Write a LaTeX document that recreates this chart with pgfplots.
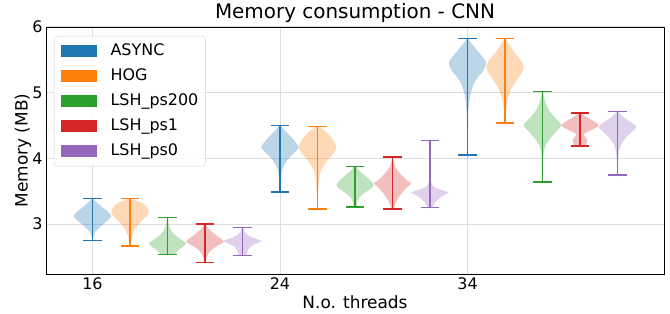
\documentclass[border=0pt]{standalone}
\usepackage{pgfplots}
\pgfplotsset{compat=1.18}
\usepackage{pgfplotstable}
\usepackage{fontspec}
\setmainfont{DejaVu Sans}
\definecolor{C0}{HTML}{1F77B4}
\definecolor{C1}{HTML}{FF7F0E}
\definecolor{C2}{HTML}{2CA02C}
\definecolor{C3}{HTML}{D62728}
\definecolor{C4}{HTML}{9467BD}
\definecolor{gridc}{RGB}{222,222,222}
\definecolor{legc}{RGB}{210,210,210}

% violin outlines: y, signed relative half width w (right side down, left side up)
\pgfplotstableread{
y w
3.385 0.03
3.35 0.15
3.30 0.35
3.25 0.55
3.20 0.78
3.15 0.95
3.12 1.0
3.08 0.9
3.03 0.7
2.98 0.5
2.93 0.3
2.88 0.15
2.83 0.07
2.78 0.03
2.75 0.02
2.75 -0.02
2.78 -0.03
2.83 -0.07
2.88 -0.15
2.93 -0.3
2.98 -0.5
3.03 -0.7
3.08 -0.9
3.12 -1.0
3.15 -0.95
3.20 -0.78
3.25 -0.55
3.30 -0.35
3.35 -0.15
3.385 -0.03
}\vAa
\pgfplotstableread{
y w
3.385 0.05
3.36 0.3
3.31 0.7
3.26 0.9
3.18 1.0
3.11 0.85
3.03 0.55
2.93 0.28
2.83 0.12
2.75 0.06
2.665 0.03
2.665 -0.03
2.75 -0.06
2.83 -0.12
2.93 -0.28
3.03 -0.55
3.11 -0.85
3.18 -1.0
3.26 -0.9
3.31 -0.7
3.36 -0.3
3.385 -0.05
}\vAb
\pgfplotstableread{
y w
3.10 0.02
3.02 0.06
2.95 0.12
2.88 0.25
2.82 0.45
2.76 0.75
2.71 1.0
2.66 0.85
2.61 0.6
2.57 0.45
2.545 0.35
2.545 -0.35
2.57 -0.45
2.61 -0.6
2.66 -0.85
2.71 -1.0
2.76 -0.75
2.82 -0.45
2.88 -0.25
2.95 -0.12
3.02 -0.06
3.10 -0.02
}\vAc
\pgfplotstableread{
y w
3.00 0.03
2.93 0.2
2.88 0.38
2.83 0.6
2.77 0.88
2.73 1.0
2.69 0.8
2.65 0.55
2.58 0.25
2.50 0.1
2.41 0.02
2.41 -0.02
2.50 -0.1
2.58 -0.25
2.65 -0.55
2.69 -0.8
2.73 -1.0
2.77 -0.88
2.83 -0.6
2.88 -0.38
2.93 -0.2
3.00 -0.03
}\vAd
\pgfplotstableread{
y w
2.95 0.03
2.89 0.1
2.84 0.25
2.80 0.5
2.765 0.85
2.74 1.0
2.71 0.8
2.68 0.55
2.63 0.35
2.57 0.25
2.52 0.2
2.52 -0.2
2.57 -0.25
2.63 -0.35
2.68 -0.55
2.71 -0.8
2.74 -1.0
2.765 -0.85
2.80 -0.5
2.84 -0.25
2.89 -0.1
2.95 -0.03
}\vAe
\pgfplotstableread{
y w
4.50 0.03
4.41 0.3
4.31 0.65
4.23 0.88
4.17 1.0
4.11 0.85
4.05 0.62
3.95 0.33
3.85 0.15
3.75 0.07
3.62 0.04
3.49 0.02
3.49 -0.02
3.62 -0.04
3.75 -0.07
3.85 -0.15
3.95 -0.33
4.05 -0.62
4.11 -0.85
4.17 -1.0
4.23 -0.88
4.31 -0.65
4.41 -0.3
4.50 -0.03
}\vBa
\pgfplotstableread{
y w
4.486 0.05
4.43 0.35
4.33 0.7
4.24 0.92
4.16 1.0
4.09 0.88
4.03 0.7
3.90 0.35
3.78 0.15
3.62 0.07
3.45 0.04
3.23 0.02
3.23 -0.02
3.45 -0.04
3.62 -0.07
3.78 -0.15
3.90 -0.35
4.03 -0.7
4.09 -0.88
4.16 -1.0
4.24 -0.92
4.33 -0.7
4.43 -0.35
4.486 -0.05
}\vBb
\pgfplotstableread{
y w
3.88 0.03
3.82 0.2
3.745 0.5
3.67 0.8
3.59 1.0
3.52 0.75
3.44 0.35
3.365 0.15
3.30 0.1
3.26 0.08
3.26 -0.08
3.30 -0.1
3.365 -0.15
3.44 -0.35
3.52 -0.75
3.59 -1.0
3.67 -0.8
3.745 -0.5
3.82 -0.2
3.88 -0.03
}\vBc
\pgfplotstableread{
y w
4.02 0.02
3.95 0.06
3.87 0.15
3.77 0.4
3.67 0.75
3.62 1.0
3.57 0.8
3.49 0.55
3.415 0.35
3.315 0.15
3.23 0.05
3.23 -0.05
3.315 -0.15
3.415 -0.35
3.49 -0.55
3.57 -0.8
3.62 -1.0
3.67 -0.75
3.77 -0.4
3.87 -0.15
3.95 -0.06
4.02 -0.02
}\vBd
\pgfplotstableread{
y w
4.27 0.01
4.00 0.02
3.75 0.03
3.64 0.06
3.57 0.2
3.52 0.6
3.48 1.0
3.44 0.75
3.415 0.6
3.34 0.3
3.25 0.1
3.25 -0.1
3.34 -0.3
3.415 -0.6
3.44 -0.75
3.48 -1.0
3.52 -0.6
3.57 -0.2
3.64 -0.06
3.75 -0.03
4.00 -0.02
4.27 -0.01
}\vBe
\pgfplotstableread{
y w
5.82 0.03
5.72 0.3
5.615 0.6
5.51 0.9
5.44 1.0
5.34 0.85
5.235 0.55
5.11 0.3
4.96 0.15
4.805 0.07
4.60 0.03
4.05 0.02
4.05 -0.02
4.60 -0.03
4.805 -0.07
4.96 -0.15
5.11 -0.3
5.235 -0.55
5.34 -0.85
5.44 -1.0
5.51 -0.9
5.615 -0.6
5.72 -0.3
5.82 -0.03
}\vCa
\pgfplotstableread{
y w
5.82 0.03
5.72 0.25
5.615 0.5
5.49 0.85
5.39 1.0
5.285 0.85
5.16 0.55
5.03 0.3
4.905 0.15
4.75 0.07
4.54 0.03
4.54 -0.03
4.75 -0.07
4.905 -0.15
5.03 -0.3
5.16 -0.55
5.285 -0.85
5.39 -1.0
5.49 -0.85
5.615 -0.5
5.72 -0.25
5.82 -0.03
}\vCb
\pgfplotstableread{
y w
5.02 0.02
4.86 0.15
4.73 0.35
4.61 0.7
4.505 1.0
4.40 0.7
4.30 0.4
4.20 0.18
4.10 0.07
3.90 0.03
3.64 0.02
3.64 -0.02
3.90 -0.03
4.10 -0.07
4.20 -0.18
4.30 -0.4
4.40 -0.7
4.505 -1.0
4.61 -0.7
4.73 -0.35
4.86 -0.15
5.02 -0.02
}\vCc
\pgfplotstableread{
y w
4.69 0.05
4.63 0.35
4.58 0.65
4.505 1.0
4.43 0.6
4.39 0.3
4.36 0.2
4.32 0.3
4.28 0.38
4.225 0.35
4.19 0.28
4.19 -0.28
4.225 -0.35
4.28 -0.38
4.32 -0.3
4.36 -0.2
4.39 -0.3
4.43 -0.6
4.505 -1.0
4.58 -0.65
4.63 -0.35
4.69 -0.05
}\vCd
\pgfplotstableread{
y w
4.71 0.03
4.63 0.3
4.555 0.7
4.48 1.0
4.40 0.75
4.30 0.4
4.20 0.18
4.10 0.08
3.95 0.04
3.745 0.02
3.745 -0.02
3.95 -0.04
4.10 -0.08
4.20 -0.18
4.30 -0.4
4.40 -0.75
4.48 -1.0
4.555 -0.7
4.63 -0.3
4.71 -0.03
}\vCe

% #1 position, #2 colour, #3 min, #4 max, #5 outline table, #6 cap left, #7 cap right
\newcommand\violin[7]{%
  \addplot[fill=#2, fill opacity=0.3, draw=none, forget plot, smooth, tension=0.5] table[x expr={#1+0.5*\thisrow{w}}, y=y]{#5} -- cycle;
  \addplot[#2, line width=1.3bp, forget plot] coordinates {(#1,#3) (#1,#4)};
  \addplot[#2, line width=1.3bp, forget plot] coordinates {(#6,#3) (#7,#3)};
  \addplot[#2, line width=1.3bp, forget plot] coordinates {(#6,#4) (#7,#4)};
}

\begin{document}
\begin{tikzpicture}
\useasboundingbox (-46bp,-40bp) rectangle (624bp,274bp);
\begin{axis}[
  at={(0,0)}, anchor=south west,
  scale only axis, width=618bp, height=247bp,
  xmin=-1.24, xmax=15.24, ymin=2.24, ymax=6,
  xtick={0,5,10}, xticklabels={16,24,34},
  ytick={3,4,5,6},
  /pgf/number format/assume math mode=true,
  ticklabel style={font=\fontsize{16}{19}\selectfont},
  label style={font=\fontsize{17}{20}\selectfont},
  title style={font=\fontsize{20}{24}\selectfont, at={(axis description cs:0.5,1)}, anchor=base, yshift=3bp, inner sep=0pt},
  title={Memory consumption - CNN},
  xlabel={N.o. threads},
  ylabel={Memory (MB)},
  xlabel style={at={(axis description cs:0.5,-0.1377)}, anchor=base, inner sep=0pt},
  ylabel style={at={(axis description cs:-0.0299,0.5)}, anchor=base, inner sep=0pt},
  grid=major,
  major grid style={gridc, line width=1bp},
  axis line style={line width=0.9bp},
  major tick length=0bp,
  tick style={draw=none},
  xtick pos=bottom, ytick pos=left,
  legend cell align=left,
  legend style={at={(0.0129,0.9636)}, anchor=north west,
    draw=legc, rounded corners=3bp, fill=white, fill opacity=0.85, text opacity=1,
    font=\fontsize{16}{19}\selectfont, row sep=9bp, column sep=14bp,
    inner xsep=7bp, inner ysep=7bp,
    nodes={inner sep=0bp, text height=12bp, text depth=4bp}},
  legend image code/.code={\fill[#1, fill opacity=1, sharp corners] (0bp,-5.5bp) rectangle (35bp,5.5bp);},
]
\addlegendimage{C0}\addlegendentry{ASYNC}
\addlegendimage{C1}\addlegendentry{HOG}
\addlegendimage{C2}\addlegendentry{LSH\_ps200}
\addlegendimage{C3}\addlegendentry{LSH\_ps1}
\addlegendimage{C4}\addlegendentry{LSH\_ps0}

\violin{0}{C0}{2.75}{3.385}{\vAa}{-0.25}{0.25}
\violin{1}{C1}{2.665}{3.385}{\vAb}{0.75}{1.25}
\violin{2}{C2}{2.54}{3.10}{\vAc}{1.75}{2.25}
\violin{3}{C3}{2.41}{3.00}{\vAd}{2.75}{3.25}
\violin{4}{C4}{2.52}{2.95}{\vAe}{3.75}{4.25}
\violin{5}{C0}{3.49}{4.50}{\vBa}{4.75}{5.25}
\violin{6}{C1}{3.23}{4.486}{\vBb}{5.75}{6.25}
\violin{7}{C2}{3.26}{3.88}{\vBc}{6.75}{7.25}
\violin{8}{C3}{3.23}{4.02}{\vBd}{7.75}{8.25}
\violin{9}{C4}{3.25}{4.27}{\vBe}{8.75}{9.25}
\violin{10}{C0}{4.05}{5.82}{\vCa}{9.75}{10.25}
\violin{11}{C1}{4.54}{5.82}{\vCb}{10.75}{11.25}
\violin{12}{C2}{3.64}{5.02}{\vCc}{11.75}{12.25}
\violin{13}{C3}{4.19}{4.69}{\vCd}{12.75}{13.25}
\violin{14}{C4}{3.745}{4.71}{\vCe}{13.75}{14.25}
\end{axis}
\end{tikzpicture}
\end{document}
